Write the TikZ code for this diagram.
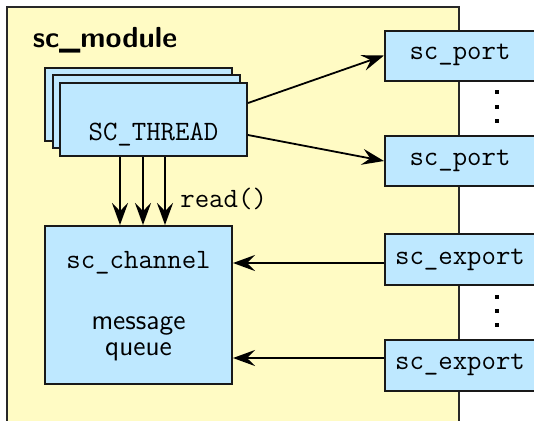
\documentclass[tikz,border=0pt]{standalone}
\usetikzlibrary{arrows.meta,calc}
\definecolor{modfill}{RGB}{255,251,196}
\definecolor{boxfill}{RGB}{190,232,255}
\definecolor{modline}{RGB}{40,40,40}
\tikzset{
  every node/.style={font=\fontsize{14}{16}\selectfont},
  blk/.style={draw=black!90, line width=1pt, fill=boxfill, inner sep=0pt},
  ttl/.style={font=\fontsize{14}{16}\selectfont\ttfamily, inner sep=0pt},
  sfl/.style={font=\fontsize{14}{13}\selectfont\sffamily, inner sep=0pt},
  arr/.style={line width=0.9pt, -{Stealth[length=11pt,width=8pt,inset=4pt]}},
  dotmark/.style={fill=black, draw=none, minimum size=1.8pt, inner sep=0pt},
}
\begin{document}
\begin{tikzpicture}[x=0.5pt,y=-0.5pt]
\useasboundingbox (0,0) rectangle (534,420);
% module
\path[fill=modfill, draw=modline, line width=1pt] (7,7) rectangle (459,440);
\node[font=\fontsize{14.5}{16}\selectfont\sffamily\bfseries, inner sep=0pt] (modtitle) at (105,40) {sc\_module};
% thread stack
\node[blk, minimum width=93.5pt, minimum height=36.5pt] (thrA) at (138.5,104.5) {};
\node[blk, minimum width=93.5pt, minimum height=36.5pt] (thrB) at (146.5,111.5) {};
\node[blk, minimum width=93.5pt, minimum height=36.5pt] (thr) at (153.5,119.5) {};
\node[ttl] (thrlabel) at (153.5,135) {SC\_THREAD};
% channel
\node[blk, minimum width=93.5pt, minimum height=79pt] (ch) at (138.5,305) {};
\node[ttl] (chlabel) at (138.5,263) {sc\_channel};
\node[sfl, align=center] (mq) at (138.5,339) {message\\queue};
% ports and exports
\node[blk, minimum width=75.5pt, minimum height=25pt] (p1) at (460.5,55.5) {};
\node[ttl] (p1l) at (460,55) {sc\_port};
\node[blk, minimum width=75.5pt, minimum height=25pt] (p2) at (460.5,161) {};
\node[ttl] (p2l) at (460,161) {sc\_port};
\node[blk, minimum width=75.5pt, minimum height=25.5pt] (e1) at (460.5,259.5) {};
\node[ttl] (e1l) at (460,260) {sc\_export};
\node[blk, minimum width=75.5pt, minimum height=25.5pt] (e2) at (460.5,365.5) {};
\node[ttl] (e2l) at (460,365) {sc\_export};
% dots
\node[dotmark] (d1) at (497,92) {};
\node[dotmark] (d2) at (497,107) {};
\node[dotmark] (d3) at (497,121) {};
\node[dotmark] (d4) at (497,297) {};
\node[dotmark] (d5) at (497,311) {};
\node[dotmark] (d6) at (497,325) {};
% thread -> ports
\coordinate (t1) at ([yshift=8.25pt]thr.east);
\coordinate (t2) at ([yshift=-7.75pt]thr.east);
\draw[arr] (t1) -- (p1.west);
\draw[arr] (t2) -- (p2.west);
% thread -> channel
\coordinate (r1) at ([xshift=-16.75pt]thr.south);
\coordinate (r2) at ([xshift=-5.25pt]thr.south);
\coordinate (r3) at ([xshift=5.75pt]thr.south);
\draw[arr] (r1) -- (r1 |- ch.north);
\draw[arr] (r2) -- (r2 |- ch.north);
\draw[arr] (r3) -- (r3 |- ch.north);
\node[ttl, anchor=west] (rd) at (180,199) {read()};
% exports -> channel
\coordinate (x1) at ([yshift=-1.75pt]e1.west);
\coordinate (x2) at ([yshift=3.75pt]e2.west);
\draw[arr] (x1) -- (x1 -| ch.east);
\draw[arr] (x2) -- (x2 -| ch.east);
\end{tikzpicture}
\end{document}
